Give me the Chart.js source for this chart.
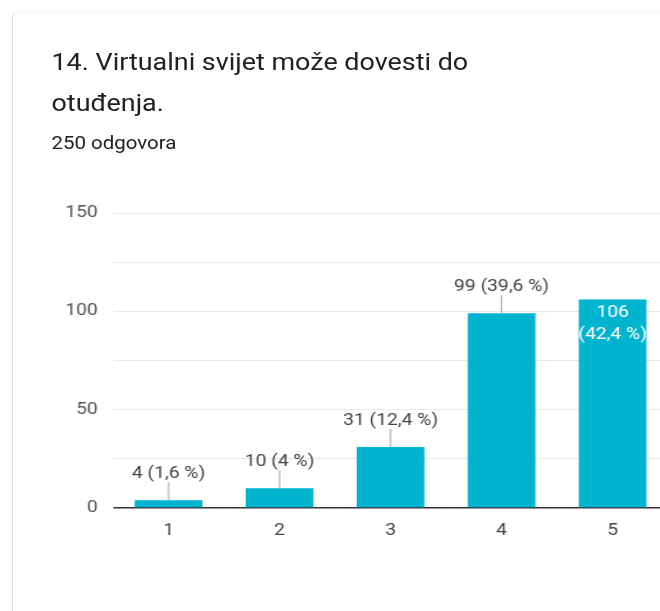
<!DOCTYPE html>
<html>
<head>
<meta charset="utf-8">
<script src="https://cdn.jsdelivr.net/npm/chart.js@4.4.0/dist/chart.umd.min.js"></script>
<style>
  html, body { margin: 0; padding: 0; background: #fff; width: 660px; height: 611px; overflow: hidden; }
  body { font-family: Roboto, "Noto Sans", sans-serif; }
  /* snimka je vodoravno razvučena, pa cijelu stranicu razvlačimo isto */
  #stranica { position: absolute; left: 0; top: 0; width: 572px; height: 611px;
              transform: scaleX(1.17); transform-origin: 0 0; }
  .card { position: absolute; left: 10px; top: 11px; width: 700px; height: 700px;
          border-left: 1px solid #dadce0; border-top: 1px solid #f4f4f6; border-top-left-radius: 8px; }
  .title { position: absolute; left: 44px; top: 42px; font-size: 23px; line-height: 41px; color: #202124; white-space: nowrap; }
  .sub { position: absolute; left: 44px; top: 133px; font-size: 17.5px; color: #202124; white-space: nowrap; }
  #chart { position: absolute; left: 0; top: 190px; }
</style>
</head>
<body>
<div id="stranica">
  <div class="card"></div>
  <div class="title">14. Virtualni svijet može dovesti do<br>otuđenja.</div>
  <div class="sub">250 odgovora</div>
  <canvas id="chart" width="571" height="360"></canvas>
</div>
<script>
// podaci s grafikona
const kategorije = ["1", "2", "3", "4", "5"];
const odgovori = [4, 10, 31, 99, 106];
const postotci = ["1,6", "4", "12,4", "39,6", "42,4"];
const yOznake = [0, 50, 100, 150];

const bojaStupca = "#00b4cf";
const vidljivaSirina = 660 / 1.17;

// natpisi iznad stupaca s kratkom crtom do stupca
const natpisiPlugin = {
  id: "natpisi",
  afterDatasetsDraw(chart) {
    const ctx = chart.ctx;
    const meta = chart.getDatasetMeta(0);
    ctx.save();
    ctx.font = "16.5px Roboto";
    ctx.textAlign = "center";
    meta.data.forEach((bar, i) => {
      const tekst = `${odgovori[i]} (${postotci[i]} %)`;
      const w = ctx.measureText(tekst).width;
      if (bar.x + w / 2 > vidljivaSirina - 8) {
        // ne stane desno -> unutar stupca, u dva reda
        ctx.fillStyle = "#ffffff";
        ctx.textBaseline = "middle";
        ctx.fillText(String(odgovori[i]), bar.x, bar.y + 13);
        ctx.fillText(`(${postotci[i]} %)`, bar.x, bar.y + 35);
      } else {
        ctx.strokeStyle = "#9e9e9e";
        ctx.lineWidth = 1;
        ctx.beginPath();
        ctx.moveTo(bar.x, bar.y);
        ctx.lineTo(bar.x, bar.y - 18);
        ctx.stroke();
        ctx.fillStyle = "#444444";
        ctx.textBaseline = "alphabetic";
        ctx.fillText(tekst, bar.x, bar.y - 22);
      }
    });
    ctx.restore();
  },
};

new Chart(document.getElementById("chart"), {
  type: "bar",
  data: {
    labels: kategorije,
    datasets: [
      {
        data: odgovori,
        backgroundColor: bojaStupca,
        borderWidth: 0,
        categoryPercentage: 1,
        barPercentage: 0.61,
      },
    ],
  },
  options: {
    responsive: false,
    animation: false,
    layout: { padding: { top: 23, right: 0, bottom: 0, left: 0 } },
    plugins: {
      legend: { display: false },
      tooltip: { enabled: false },
    },
    scales: {
      x: {
        grid: { display: false, drawTicks: false },
        border: { display: false },
        ticks: { color: "#444", font: { family: "Roboto", size: 16.5 }, padding: 13 },
        afterFit: (s) => { s.height = 42; },
      },
      y: {
        min: 0,
        max: 150,
        border: { display: false },
        grid: {
          drawTicks: false,
          color: (c) => (c.tick && c.tick.value === 0 ? "#333333" : "#e8e8e8"),
          lineWidth: (c) => (c.tick && c.tick.value === 0 ? 1.5 : 1),
        },
        ticks: {
          stepSize: 25,
          padding: 13,
          color: "#555",
          font: { family: "Roboto", size: 16.5 },
          callback: (v) => (yOznake.includes(v) ? v : ""),
        },
        afterFit: (s) => { s.width = 96.6; },
      },
    },
  },
  plugins: [natpisiPlugin],
});
</script>
</body>
</html>
